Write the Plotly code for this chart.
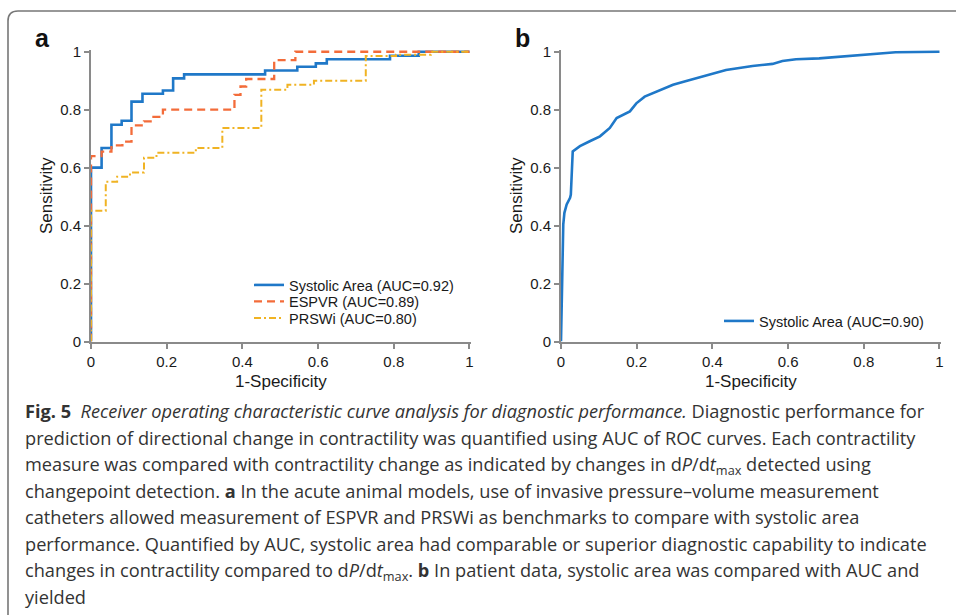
import plotly.graph_objects as go

W, H = 956, 615

# ---------------- data ----------------
tick_vals = [0, 0.2, 0.4, 0.6, 0.8, 1]
tick_text = ["0", "0.2", "0.4", "0.6", "0.8", "1"]

# Panel a: ROC step curves (animal models)
sys_a_x = [0, 0, 0.028, 0.054, 0.081, 0.107, 0.136, 0.19, 0.217, 0.246, 0.46, 0.545, 0.594, 0.623, 0.79, 0.866, 1]
sys_a_y = [0, 0.60, 0.668, 0.748, 0.762, 0.828, 0.855, 0.866, 0.908, 0.922, 0.935, 0.948, 0.96, 0.974, 0.986, 1.0, 1.0]

espvr_x = [0, 0, 0.028, 0.054, 0.083, 0.107, 0.14, 0.165, 0.19, 0.379, 0.395, 0.41, 0.484, 0.54, 1]
espvr_y = [0, 0.64, 0.655, 0.677, 0.69, 0.746, 0.76, 0.775, 0.80, 0.851, 0.88, 0.906, 0.971, 1.0, 1.0]

prswi_x = [0, 0, 0.039, 0.069, 0.103, 0.14, 0.173, 0.277, 0.347, 0.45, 0.519, 0.589, 0.726, 0.806, 0.898, 1]
prswi_y = [0, 0.451, 0.551, 0.569, 0.583, 0.634, 0.651, 0.668, 0.737, 0.869, 0.886, 0.90, 0.985, 0.99, 1.0, 1.0]

# Panel b: patient data ROC curve
sys_b_x = [0, 0.002, 0.006, 0.009, 0.015, 0.024, 0.026, 0.031, 0.05, 0.076, 0.103, 0.129, 0.147, 0.182,
           0.199, 0.221, 0.261, 0.296, 0.331, 0.366, 0.401, 0.436, 0.506, 0.559, 0.585, 0.621, 0.682,
           0.761, 0.823, 0.884, 1.0]
sys_b_y = [0, 0.198, 0.404, 0.444, 0.473, 0.496, 0.507, 0.656, 0.674, 0.691, 0.708, 0.737, 0.771, 0.794,
           0.822, 0.845, 0.868, 0.886, 0.899, 0.911, 0.925, 0.937, 0.951, 0.958, 0.968, 0.974, 0.977,
           0.986, 0.991, 0.998, 1.0]

names_a = ["Systolic Area (AUC=0.92)", "ESPVR (AUC=0.89)", "PRSWi (AUC=0.80)"]
name_b = "Systolic Area (AUC=0.90)"

caption_lines = [
    "<b>Fig. 5</b>&nbsp; <i>Receiver operating characteristic curve analysis for diagnostic performance.</i> Diagnostic performance for",
    "prediction of directional change in contractility was quantified using AUC of ROC curves. Each contractility",
    "measure was compared with contractility change as indicated by changes in d<i>P</i>/d<i>t</i><sub>max</sub> detected using",
    "changepoint detection. <b>a</b> In the acute animal models, use of invasive pressure–volume measurement",
    "catheters allowed measurement of ESPVR and PRSWi as benchmarks to compare with systolic area",
    "performance. Quantified by AUC, systolic area had comparable or superior diagnostic capability to indicate",
    "changes in contractility compared to d<i>P</i>/d<i>t</i><sub>max</sub>. <b>b</b> In patient data, systolic area was compared with AUC and",
    "yielded",
]

# ---------------- style ----------------
BLUE = "#1f78c8"
ORANGE = "#f36c3a"
GOLD = "#f0b323"
AXIS = "#8a8a8a"
TXT = "#1a1a1a"
FONT = "Liberation Sans, Arial, sans-serif"

def px_x(p):
    return p / W

def px_y(p):
    return 1 - p / H

fig = go.Figure()

fig.add_trace(go.Scatter(x=sys_a_x, y=sys_a_y, mode="lines", name=names_a[0], line_shape="hv",
                         line=dict(color=BLUE, width=2.6), xaxis="x", yaxis="y", legend="legend"))
fig.add_trace(go.Scatter(x=espvr_x, y=espvr_y, mode="lines", name=names_a[1], line_shape="hv",
                         line=dict(color=ORANGE, width=2.3, dash="8px,5px"), xaxis="x", yaxis="y", legend="legend2"))
fig.add_trace(go.Scatter(x=prswi_x, y=prswi_y, mode="lines", name=names_a[2], line_shape="hv",
                         line=dict(color=GOLD, width=2.0, dash="7px,3px,2px,3px"), xaxis="x", yaxis="y", legend="legend3"))
fig.add_trace(go.Scatter(x=sys_b_x, y=sys_b_y, mode="lines", name=name_b,
                         line=dict(color=BLUE, width=2.6), xaxis="x2", yaxis="y2", legend="legend4"))

ax_common = dict(
    showgrid=False, zeroline=False, showline=True, linecolor=AXIS, linewidth=2,
    ticks="outside", ticklen=5, tickwidth=1.5, tickcolor=AXIS,
    tickvals=tick_vals, ticktext=tick_text, automargin=False,
    tickfont=dict(family=FONT, size=15, color=TXT),
)

a_x0, a_x1 = 91, 471
b_x0, b_x1 = 561, 941
y_top, y_bot = 50, 341.5

def leg(xp, yp):
    return dict(x=px_x(xp), y=px_y(yp), xanchor="left", yanchor="middle", borderwidth=0,
                bgcolor="rgba(0,0,0,0)", font=dict(family=FONT, size=14.5, color=TXT), itemwidth=30)

fig.update_layout(
    template="none",
    width=W, height=H, autosize=False,
    margin=dict(l=0, r=0, t=0, b=0, pad=0, autoexpand=False),
    paper_bgcolor="white", plot_bgcolor="white",
    font=dict(family=FONT, color=TXT),
    xaxis=dict(domain=[px_x(a_x0), px_x(a_x1)], range=[0, 1.004], anchor="y", **ax_common),
    yaxis=dict(domain=[px_y(y_bot), px_y(y_top)], range=[0, 1.006], anchor="x", **ax_common),
    xaxis2=dict(domain=[px_x(b_x0), px_x(b_x1)], range=[0, 1.004], anchor="y2", **ax_common),
    yaxis2=dict(domain=[px_y(y_bot), px_y(y_top)], range=[0, 1.006], anchor="x2", **ax_common),
    legend=leg(249, 285),
    legend2=leg(249, 301.5),
    legend3=leg(249, 318),
    legend4=leg(719, 321),
    showlegend=True,
)

ann = []
# panel letters
ann.append(dict(text="<b>a</b>", x=px_x(42), y=px_y(38), showarrow=False, xref="paper", yref="paper",
                font=dict(family=FONT, size=25, color="#111"), xanchor="center", yanchor="middle"))
ann.append(dict(text="<b>b</b>", x=px_x(522), y=px_y(38), showarrow=False, xref="paper", yref="paper",
                font=dict(family=FONT, size=25, color="#111"), xanchor="center", yanchor="middle"))
# axis titles
for cx in (46, 516):
    ann.append(dict(text="Sensitivity", x=px_x(cx), y=px_y(196), textangle=-90, showarrow=False,
                    xref="paper", yref="paper", font=dict(family=FONT, size=17, color=TXT),
                    xanchor="center", yanchor="middle"))
for cx in (281, 751):
    ann.append(dict(text="1-Specificity", x=px_x(cx), y=px_y(381), showarrow=False,
                    xref="paper", yref="paper", font=dict(family=FONT, size=17, color=TXT),
                    xanchor="center", yanchor="middle"))
# caption
cap_top = 397
cap_step = 26.5
for i, line in enumerate(caption_lines):
    ann.append(dict(text=line, x=px_x(23), y=px_y(cap_top + i * cap_step), showarrow=False,
                    xref="paper", yref="paper", xanchor="left", yanchor="top", align="left",
                    font=dict(family="Open Sans", size=18.2, color="#333333")))
fig.update_layout(annotations=ann)

# rounded frame
r = 10
path = (f"M {px_x(8)},{px_y(640)} L {px_x(8)},{px_y(11 + r)} "
        f"Q {px_x(8)},{px_y(11)} {px_x(8 + r)},{px_y(11)} L {px_x(970)},{px_y(11)}")
fig.add_shape(type="path", path=path, xref="paper", yref="paper",
              line=dict(color="#777777", width=1.6))

fig.write_html("out.html", config={"displayModeBar": False},
               post_script="document.body.style.margin='0px';")
